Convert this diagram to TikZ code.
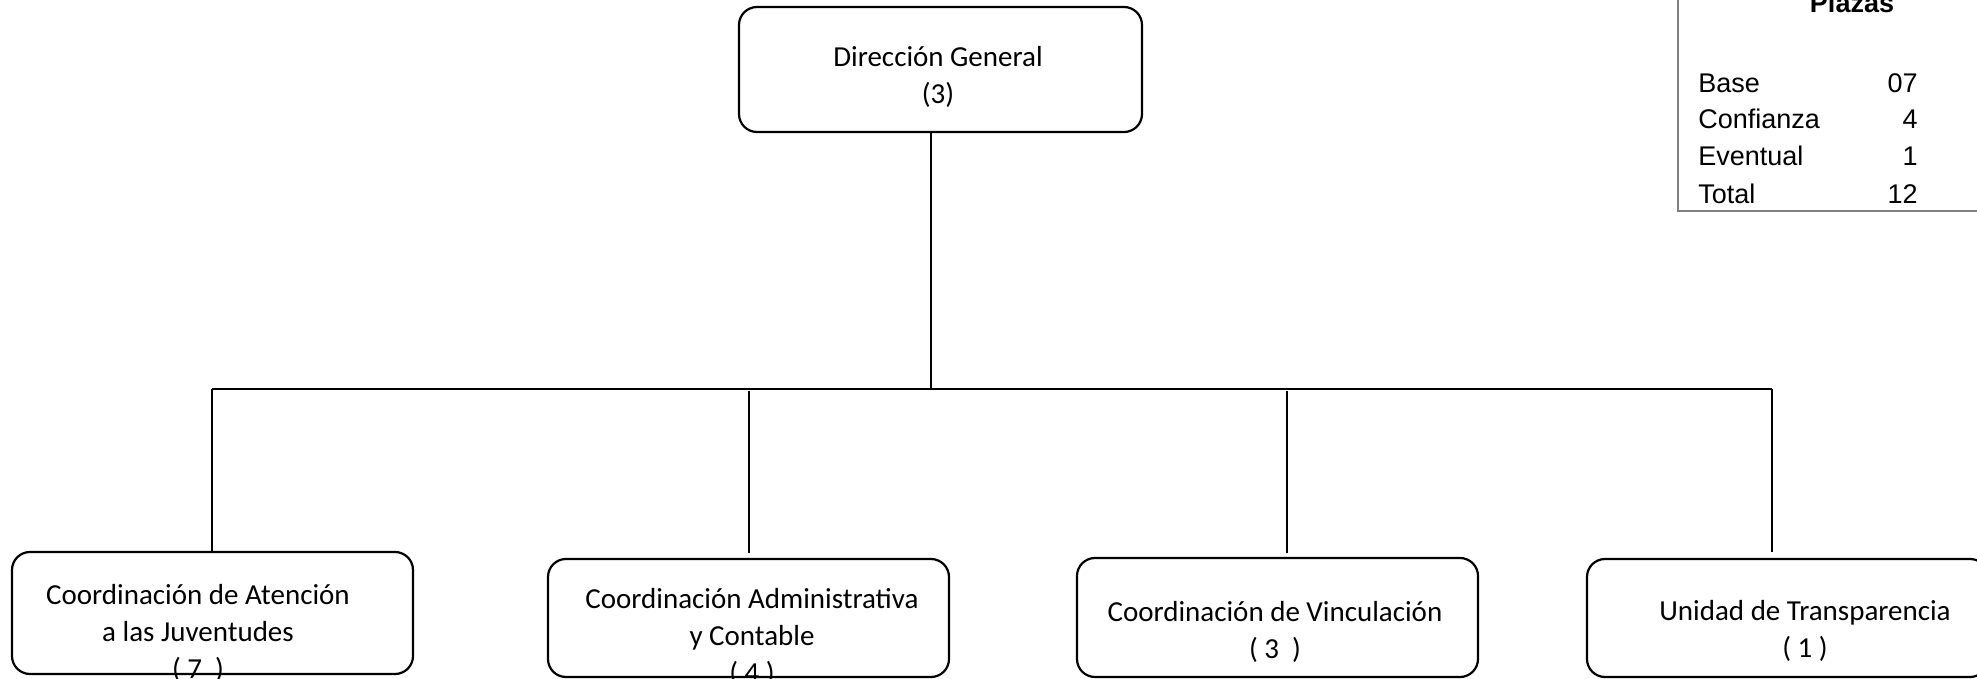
\documentclass[tikz,border=0pt]{standalone}
\usepackage{fontspec}
\setmainfont{Carlito}
\newfontfamily\plazasfont{Liberation Sans}
\begin{document}
\begin{tikzpicture}[
    x=0.5pt, y=-0.5pt,
    box/.style={rectangle, rounded corners=9pt, draw, line width=1.1pt, minimum width=200.5pt, inner sep=0pt},
    boxtext/.style={align=center, inner sep=0pt, font=\fontsize{14.5}{18.5}\selectfont},
    link/.style={line width=0.65pt},
    frame/.style={draw=black!50, line width=1.3pt},
    plazastext/.style={inner sep=0pt, font=\plazasfont\fontsize{13.5}{16}\selectfont}
]
    \useasboundingbox (0,0) rectangle (1977,679);
    \fill[white] (0,0) rectangle (1977,679);
    \clip (0,0) rectangle (1977,679);

    % Boxes
    \node[box, minimum width=201.5pt, minimum height=62.5pt] (dg) at (940.5,69.5) {};
    \node[box, minimum height=61pt] (cj) at (212.5,613) {};
    \node[box, minimum height=59pt] (ca) at (748.5,618) {};
    \node[box, minimum height=59.5pt] (cv) at (1277.5,617.5) {};
    \node[box, minimum height=59pt] (ut) at (1787.5,618) {};

    % Texts
    \node[boxtext] (dgtext) at (938,77) {Dirección General\\(3)};
    \node[boxtext] (cjtext) at (198,633) {Coordinación de Atención\\a las Juventudes\\( 7 \ )};
    \node[boxtext] (catext) at (752,637) {Coordinación Administrativa\\y Contable\\( 4 )};
    \node[boxtext] (cvtext) at (1275,631.5) {Coordinación de Vinculación\\( 3 \ )};
    \node[boxtext] (uttext) at (1805,630.5) {Unidad de Transparencia\\( 1 )};

    % Connections
    \coordinate (trunk) at (931,389);
    \coordinate (busL) at (212,389);
    \coordinate (busR) at (1772,389);
    \coordinate (drop2) at (749,391);
    \coordinate (drop3) at (1287,391);
    \draw[link] (dg.south -| trunk) -- (trunk);
    \draw[link] (busL) -- (busR);
    \draw[link] (busL) -- (busL |- cj.north);
    \draw[link, shorten >=2.5pt] (drop2) -- (drop2 |- ca.north);
    \draw[link, shorten >=2pt] (drop3) -- (drop3 |- cv.north);
    \draw[link, shorten >=3pt] (busR) -- (busR |- ut.north);

    % Plazas
    \draw[frame] (1678,-20) rectangle (2000,211);
    \node[plazastext, font=\plazasfont\bfseries\fontsize{13.5}{16}\selectfont, anchor=base] (plazas) at (1852,13) {Plazas};
    \node[plazastext, anchor=base west] (pbase) at (1698,93) {Base};
    \node[plazastext, anchor=base east] (nbase) at (1918,93) {07};
    \node[plazastext, anchor=base west] (pconf) at (1698,129) {Confianza};
    \node[plazastext, anchor=base east] (nconf) at (1918,129) {4};
    \node[plazastext, anchor=base west] (pevent) at (1698,166) {Eventual};
    \node[plazastext, anchor=base east] (nevent) at (1918,166) {1};
    \node[plazastext, anchor=base west] (ptotal) at (1698,204) {Total};
    \node[plazastext, anchor=base east] (ntotal) at (1918,204) {12};
\end{tikzpicture}
\end{document}
